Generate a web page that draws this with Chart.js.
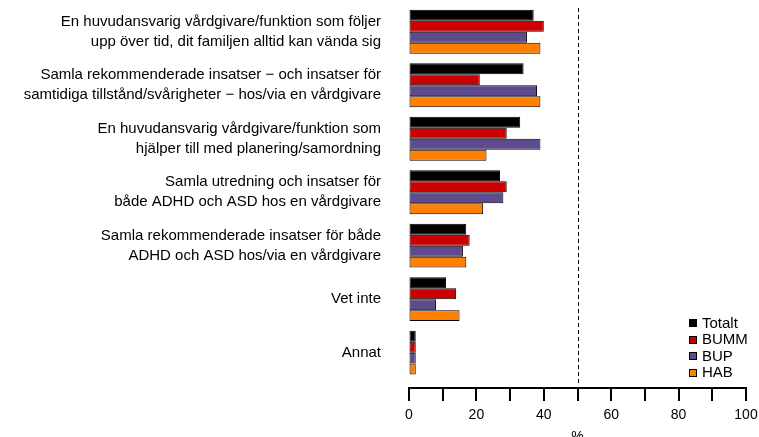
<!DOCTYPE html>
<html>
<head>
<meta charset="utf-8">
<script src="https://cdn.jsdelivr.net/npm/chart.js@4.4.0/dist/chart.umd.min.js"></script>
<style>
  html, body { margin: 0; padding: 0; background: #ffffff; }
  #wrap { width: 759px; height: 437px; position: relative; }
</style>
</head>
<body>
<div id="wrap"><canvas id="c" width="759" height="437"></canvas></div>
<script>
const categories = [
  ["En huvudansvarig vårdgivare/funktion som följer", "upp över tid, dit familjen alltid kan vända sig"],
  ["Samla rekommenderade insatser − och insatser för", "samtidiga tillstånd/svårigheter − hos/via en vårdgivare"],
  ["En huvudansvarig vårdgivare/funktion som", "hjälper till med planering/samordning"],
  ["Samla utredning och insatser för", "både ADHD och ASD hos en vårdgivare"],
  ["Samla rekommenderade insatser för både", "ADHD och ASD hos/via en vårdgivare"],
  "Vet inte",
  "Annat"
];
const seriesNames = ["Totalt", "BUMM", "BUP", "HAB"];
const totalt = [37, 34, 33, 27, 17, 11, 2];
const bumm   = [40, 21, 29, 29, 18, 14, 2];
const bup    = [35, 38, 39, 28, 16, 8, 2];
const hab    = [39, 39, 23, 22, 17, 15, 2];
const xTicks = [0, 20, 40, 60, 80, 100];
const minorTicks = [0, 10, 20, 30, 40, 50, 60, 70, 80, 90, 100];
const refLine = 50;
const axisTitle = "%";

const colors = ["#000000", "#CC0000", "#5E4B8E", "#FF8000"];
const FONT = "'Liberation Sans', Arial, Helvetica, sans-serif";

const values = [totalt, bumm, bup, hab];

const extras = {
  id: 'extras',
  afterDatasetsDraw(chart) {
    const ctx = chart.ctx;
    const x = chart.scales.x;
    const area = chart.chartArea;
    const axisY = 388;
    ctx.save();
    // dashed reference line
    ctx.strokeStyle = '#000';
    ctx.lineWidth = 1;
    ctx.setLineDash([4, 3]);
    const rx = Math.round(x.getPixelForValue(refLine)) + 0.5;
    ctx.beginPath();
    ctx.moveTo(rx, area.top + 3);
    ctx.lineTo(rx, axisY - 2);
    ctx.stroke();
    ctx.setLineDash([]);
    // axis line
    ctx.lineWidth = 2;
    ctx.beginPath();
    ctx.moveTo(x.getPixelForValue(0) - 1, axisY);
    ctx.lineTo(x.getPixelForValue(100) + 1, axisY);
    ctx.stroke();
    minorTicks.forEach(v => {
      const px = Math.round(x.getPixelForValue(v));
      ctx.beginPath();
      ctx.moveTo(px, axisY);
      ctx.lineTo(px, axisY + 13);
      ctx.stroke();
    });
    // axis title
    ctx.fillStyle = '#000';
    ctx.font = "14px " + FONT;
    ctx.textAlign = 'center';
    ctx.textBaseline = 'middle';
    ctx.fillText(axisTitle, x.getPixelForValue(refLine), 437);
    // legend
    ctx.font = "15px " + FONT;
    ctx.textAlign = 'left';
    const lx = 689, ly0 = 323, step = 16.5;
    seriesNames.forEach((name, i) => {
      const y = ly0 + i * step;
      ctx.fillStyle = colors[i];
      ctx.fillRect(lx, Math.round(y - 4), 8, 8);
      ctx.strokeStyle = '#000';
      ctx.lineWidth = 1;
      ctx.strokeRect(lx + 0.5, Math.round(y - 4) + 0.5, 7, 7);
      ctx.fillStyle = '#000';
      ctx.fillText(name, lx + 13, y + 0.5);
    });
    ctx.restore();
  }
};

new Chart(document.getElementById('c'), {
  type: 'bar',
  data: {
    labels: categories,
    datasets: seriesNames.map((name, i) => ({
      label: name,
      data: values[i],
      backgroundColor: colors[i],
      borderColor: '#000000',
      borderWidth: 1,
      borderSkipped: false,
      categoryPercentage: 0.82,
      barPercentage: 1.0
    }))
  },
  options: {
    indexAxis: 'y',
    responsive: false,
    animation: false,
    layout: { padding: { top: 5, right: 13, left: 0, bottom: 0 } },
    plugins: {
      legend: { display: false },
      tooltip: { enabled: false }
    },
    scales: {
      x: {
        type: 'linear',
        min: 0,
        max: 100,
        afterBuildTicks(scale) { scale.ticks = xTicks.map(v => ({ value: v })); },
        afterFit(scale) {
          scale.height = 57.6;
          scale.paddingLeft = 0; scale.paddingRight = 0;
          scale.paddingTop = 0; scale.paddingBottom = 0;
        },
        grid: { display: true, drawOnChartArea: false, drawTicks: false },
        border: { display: false },
        ticks: {
          color: '#000',
          padding: 27,
          maxRotation: 0,
          font: { family: FONT, size: 14 }
        }
      },
      y: {
        type: 'category',
        afterFit(scale) {
          scale.width = 409;
          scale.paddingLeft = 0; scale.paddingRight = 0;
          scale.paddingTop = 0; scale.paddingBottom = 0;
        },
        grid: { display: false, drawTicks: false },
        border: { display: false },
        ticks: {
          color: '#000',
          padding: 28,
          autoSkip: false,
          font: { family: FONT, size: 15, lineHeight: '20px' }
        }
      }
    }
  },
  plugins: [extras]
});
</script>
</body>
</html>
